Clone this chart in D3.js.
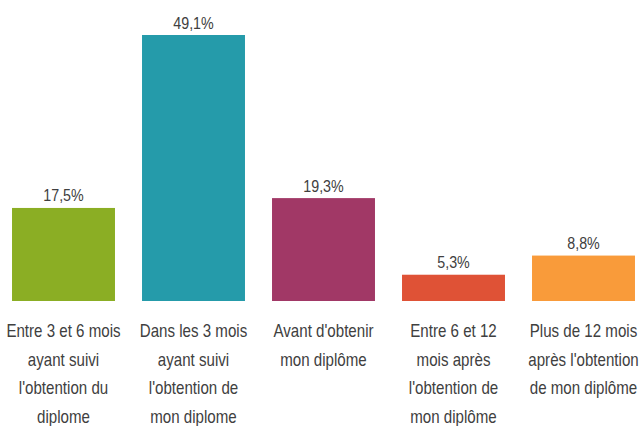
<!DOCTYPE html>
<html><head><meta charset="utf-8">
<script src="https://cdn.jsdelivr.net/npm/d3@7"></script>
<style>html,body{margin:0;padding:0;background:#fff;}svg{display:block;}</style>
</head><body>
<svg id="c" width="639" height="426"></svg>
<script>
const categories = [
  ["Entre 3 et 6 mois","ayant suivi","l'obtention du","diplome"],
  ["Dans les 3 mois","ayant suivi","l'obtention de","mon diplome"],
  ["Avant d'obtenir","mon diplôme"],
  ["Entre 6 et 12","mois après","l'obtention de","mon diplôme"],
  ["Plus de 12 mois","après l'obtention","de mon diplôme"]
];
const values = [17.5, 49.1, 19.3, 5.3, 8.8];
const valueLabels = ["17,5%", "49,1%", "19,3%", "5,3%", "8,8%"];
const colors = ["#8bae24", "#259baa", "#a13866", "#df5236", "#f99b3a"];

const svg = d3.select("#c");
const idx = d3.range(values.length);
const x = d3.scaleBand().domain(idx).range([-1.5, 648.5]).paddingInner(0.208).paddingOuter(0.104);
const y = d3.scaleLinear().domain([0.5, 49.1]).range([301, 35]);
const sx = 0.84;
const textColor = "#404040";

svg.selectAll("rect.bar").data(idx).enter().append("rect")
  .attr("class","bar")
  .attr("x", i => x(i))
  .attr("width", x.bandwidth())
  .attr("y", i => y(values[i]))
  .attr("height", i => y(0.5) - y(values[i]))
  .attr("fill", i => colors[i]);

svg.selectAll("text.val").data(idx).enter().append("text")
  .attr("class","val")
  .attr("transform", i => `translate(${x(i)+x.bandwidth()/2},${y(values[i])-6.5}) scale(${sx},1)`)
  .attr("text-anchor","middle")
  .attr("font-family","Liberation Sans, Arial, sans-serif")
  .attr("font-size", 17)
  .attr("fill", textColor)
  .text(i => valueLabels[i]);

const g = svg.selectAll("g.cat").data(idx).enter().append("g").attr("class","cat");
g.each(function(i){
  const lines = categories[i];
  d3.select(this).selectAll("text").data(lines).enter().append("text")
    .attr("transform", (d,j) => `translate(${x(i)+x.bandwidth()/2},${337 + j*28.7}) scale(${sx},1)`)
    .attr("text-anchor","middle")
    .attr("font-family","Liberation Sans, Arial, sans-serif")
    .attr("font-size", 18)
    .attr("fill", textColor)
    .text(d => d);
});
</script>
</body></html>
